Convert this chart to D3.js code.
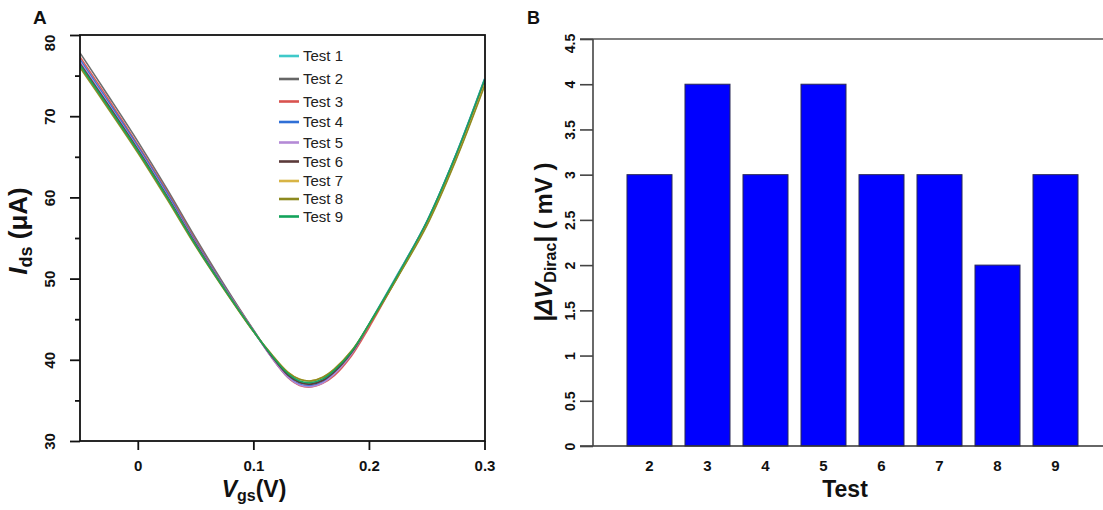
<!DOCTYPE html>
<html>
<head>
<meta charset="utf-8">
<script src="https://cdn.jsdelivr.net/npm/d3@7"></script>
<style>
  html, body { margin: 0; padding: 0; background: #fff; }
  svg { display: block; font-family: "Liberation Sans", Arial, sans-serif; }
</style>
</head>
<body>
<svg id="fig" width="1103" height="510"></svg>
<script>
// ---------- Panel A: transfer curves Ids vs Vgs ----------
const vgs = [-0.05, -0.025, 0, 0.025, 0.05, 0.075, 0.1, 0.115, 0.13, 0.14, 0.15, 0.16, 0.17, 0.185, 0.2, 0.225, 0.25, 0.275, 0.3];

const test1 = [76.3, 71.1, 65.7, 60.1, 54.2, 48.7, 43.5, 40.65, 38.2, 37.3, 37.1, 37.55, 38.6, 40.95, 44.4, 50.6, 57.0, 65.2, 74.6];
const test2 = [77.8, 72.4, 66.9, 61.1, 55.0, 49.2, 43.7, 40.6, 38.1, 37.2, 37.0, 37.45, 38.5, 40.9, 44.25, 50.3, 56.7, 64.7, 74.0];
const test3 = [77.3, 72.0, 66.5, 60.8, 54.7, 49.0, 43.65, 40.45, 37.8, 36.85, 36.65, 37.1, 38.05, 40.5, 43.95, 50.3, 56.8, 64.9, 74.2];
const test4 = [77.0, 71.7, 66.3, 60.6, 54.55, 48.95, 43.6, 40.5, 37.9, 37.0, 36.8, 37.25, 38.3, 40.8, 44.3, 50.5, 57.0, 65.15, 74.5];
const test5 = [76.7, 71.4, 66.05, 60.35, 54.4, 48.85, 43.6, 40.45, 37.85, 36.9, 36.7, 37.15, 38.25, 40.75, 44.3, 50.5, 56.9, 65.05, 74.4];
const test6 = [76.5, 71.25, 65.9, 60.2, 54.3, 48.75, 43.55, 40.6, 38.1, 37.2, 37.0, 37.45, 38.5, 40.9, 44.3, 50.35, 56.75, 64.8, 74.1];
const test7 = [76.2, 70.95, 65.65, 60.0, 54.1, 48.65, 43.5, 40.8, 38.45, 37.6, 37.4, 37.85, 38.85, 41.1, 44.3, 50.3, 56.6, 64.65, 73.9];
const test8 = [76.0, 70.8, 65.5, 59.85, 54.0, 48.6, 43.5, 40.8, 38.45, 37.6, 37.4, 37.85, 38.85, 41.1, 44.3, 50.2, 56.5, 64.5, 73.7];
const test9 = [76.3, 71.05, 65.75, 60.1, 54.15, 48.7, 43.55, 40.7, 38.3, 37.4, 37.2, 37.65, 38.7, 41.0, 44.4, 50.5, 57.0, 65.15, 74.5];

const seriesNames = ["Test 1", "Test 2", "Test 3", "Test 4", "Test 5", "Test 6", "Test 7", "Test 8", "Test 9"];
const seriesValues = [test1, test2, test3, test4, test5, test6, test7, test8, test9];
const seriesColors = ["#3fc9c9", "#666666", "#d9534f", "#2f6fd6", "#b48ad6", "#5b3a3a", "#d8b445", "#8c891f", "#13a35b"];

const yTicksA = [30, 40, 50, 60, 70, 80];
const yMinorA = [35, 45, 55, 65, 75];
const xTicksA = [0, 0.1, 0.2, 0.3];

// ---------- Panel B: Dirac point shift per test ----------
const tests = ["2", "3", "4", "5", "6", "7", "8", "9"];
const deltaVDirac = [3, 4, 3, 4, 3, 3, 2, 3];
const yTicksB = [0, 0.5, 1, 1.5, 2, 2.5, 3, 3.5, 4, 4.5];

const svg = d3.select("#fig");
svg.append("rect").attr("width", 1103).attr("height", 510).attr("fill", "#fff");

function styleAxis(g, color, width) {
  g.select(".domain").remove();
  g.selectAll(".tick line").attr("stroke", color).attr("stroke-width", width);
  g.selectAll(".tick text").attr("fill", "#111").attr("font-weight", "bold");
}

// ===== Panel A =====
const A = { left: 80, right: 485, top: 35, bottom: 441 };
const xA = d3.scaleLinear().domain([-0.05, 0.3]).range([A.left, 484.5]);
const yA = d3.scaleLinear().domain([30, 80]).range([A.bottom, A.top]);

const gA = svg.append("g");

svg.append("defs").append("clipPath").attr("id", "clipA")
  .append("rect").attr("x", A.left).attr("y", A.top)
  .attr("width", A.right - A.left).attr("height", A.bottom - A.top);

const line = d3.line()
  .x((d, i) => xA(vgs[i]))
  .y(d => yA(d))
  .curve(d3.curveCatmullRom.alpha(0.5));

const curves = gA.append("g").attr("clip-path", "url(#clipA)");
seriesValues.forEach((vals, i) => {
  curves.append("path")
    .attr("d", line(vals))
    .attr("fill", "none")
    .attr("stroke", seriesColors[i])
    .attr("stroke-width", 1.6)
    .attr("stroke-opacity", 0.95);
});

// frame
gA.append("rect")
  .attr("x", A.left).attr("y", A.top)
  .attr("width", A.right - A.left).attr("height", A.bottom - A.top)
  .attr("fill", "none").attr("stroke", "#111").attr("stroke-width", 1.8);

// y axis A (rotated labels)
const yAxisA = gA.append("g").attr("transform", `translate(${A.left},0)`)
  .call(d3.axisLeft(yA).tickValues(yTicksA).tickSize(10).tickFormat(d3.format("d")));
styleAxis(yAxisA, "#111", 1.8);
yAxisA.selectAll(".tick text")
  .attr("font-size", 15)
  .attr("text-anchor", "middle")
  .attr("dy", null)
  .attr("x", d => (d === 80 ? -7.5 : 0))
  .attr("y", -25)
  .attr("transform", "rotate(-90)");

gA.append("g").attr("transform", `translate(${A.left},0)`)
  .call(d3.axisLeft(yA).tickValues(yMinorA).tickSize(5).tickFormat(""))
  .call(g => styleAxis(g, "#111", 1.8));

// x axis A
const xAxisA = gA.append("g").attr("transform", `translate(0,${A.bottom})`)
  .call(d3.axisBottom(xA).tickValues(xTicksA).tickSize(9).tickPadding(10)
    .tickFormat(d => (d === 0 ? "0" : d3.format(".1f")(d))));
styleAxis(xAxisA, "#111", 1.8);
xAxisA.selectAll(".tick text").attr("font-size", 15);

// axis titles A
gA.append("text")
  .attr("transform", `translate(27,${231}) rotate(-90)`)
  .attr("text-anchor", "middle")
  .attr("font-weight", "bold").attr("font-size", 26).attr("fill", "#111")
  .call(t => {
    t.append("tspan").attr("font-style", "italic").text("I");
    t.append("tspan").attr("font-size", 18).attr("dy", 5).text("ds");
    t.append("tspan").attr("dy", -5).text(" (μA)");
  });

gA.append("text")
  .attr("x", 254).attr("y", 497)
  .attr("text-anchor", "middle")
  .attr("font-weight", "bold").attr("font-size", 23).attr("fill", "#111")
  .call(t => {
    t.append("tspan").attr("font-style", "italic").text("V");
    t.append("tspan").attr("font-size", 16).attr("dy", 4).text("gs");
    t.append("tspan").attr("dy", -4).text("(V)");
  });

gA.append("text").attr("x", 33).attr("y", 24)
  .attr("font-weight", "bold").attr("font-size", 19).attr("fill", "#111").text("A");

// legend A
const legendRows = [56, 79, 101.5, 122, 142.5, 161.5, 181, 199, 216.5];
const legend = gA.append("g");
seriesNames.forEach((name, i) => {
  const yy = legendRows[i];
  legend.append("line")
    .attr("x1", 279).attr("x2", 299).attr("y1", yy).attr("y2", yy)
    .attr("stroke", seriesColors[i]).attr("stroke-width", 2.6);
  legend.append("text")
    .attr("x", 303).attr("y", yy + 5.3)
    .attr("font-size", 15).attr("fill", "#222").text(name);
});

// ===== Panel B =====
const B = { left: 593, right: 1103, top: 39, bottom: 446 };
const xB = d3.scaleBand().domain(tests).range([B.left, 1112])
  .paddingInner(0.224).paddingOuter(0.586);
const yB = d3.scaleLinear().domain([0, 4.5]).range([B.bottom, B.top]);

const gB = svg.append("g");

gB.selectAll("rect.bar")
  .data(deltaVDirac)
  .join("rect")
  .attr("class", "bar")
  .attr("x", (d, i) => xB(tests[i]))
  .attr("width", xB.bandwidth())
  .attr("y", d => yB(d))
  .attr("height", d => yB(0) - yB(d))
  .attr("fill", "#0000ff")
  .attr("stroke", "#2a2a55")
  .attr("stroke-width", 1);

// top and bottom rules reaching the edge
gB.append("line").attr("x1", B.left - 13).attr("x2", B.right)
  .attr("y1", B.top).attr("y2", B.top).attr("stroke", "#555").attr("stroke-width", 1.6);
gB.append("line").attr("x1", B.left - 13).attr("x2", B.right)
  .attr("y1", B.bottom).attr("y2", B.bottom).attr("stroke", "#333").attr("stroke-width", 1.6);
gB.append("line").attr("x1", B.left).attr("x2", B.left)
  .attr("y1", B.top).attr("y2", B.bottom).attr("stroke", "#444").attr("stroke-width", 1.6);

const yAxisB = gB.append("g").attr("transform", `translate(${B.left},0)`)
  .call(d3.axisLeft(yB).tickValues(yTicksB).tickSize(13).tickFormat(d => String(d)));
styleAxis(yAxisB, "#444", 1.6);
yAxisB.selectAll(".tick text")
  .attr("font-size", 14)
  .attr("text-anchor", "middle")
  .attr("dy", null)
  .attr("x", d => (d === 4.5 ? -4 : 0))
  .attr("y", -18)
  .attr("transform", "rotate(-90)");

const xAxisB = gB.append("g").attr("transform", `translate(0,${B.bottom})`)
  .call(d3.axisBottom(xB).tickSize(0).tickPadding(14));
styleAxis(xAxisB, "#333", 0);
xAxisB.selectAll(".tick text").attr("font-size", 15);

gB.append("text")
  .attr("transform", `translate(552,${242}) rotate(-90)`)
  .attr("text-anchor", "middle")
  .attr("font-weight", "bold").attr("font-size", 24).attr("fill", "#111")
  .call(t => {
    t.append("tspan").text("|");
    t.append("tspan").attr("font-style", "italic").text("ΔV");
    t.append("tspan").attr("font-size", 16).attr("dy", 4).text("Dirac");
    t.append("tspan").attr("dy", -4).text("| ( mV )");
  });

gB.append("text")
  .attr("x", 845).attr("y", 497)
  .attr("text-anchor", "middle")
  .attr("font-weight", "bold").attr("font-size", 23).attr("fill", "#111").text("Test");

gB.append("text").attr("x", 527).attr("y", 24)
  .attr("font-weight", "bold").attr("font-size", 18).attr("fill", "#111").text("B");
</script>
</body>
</html>
